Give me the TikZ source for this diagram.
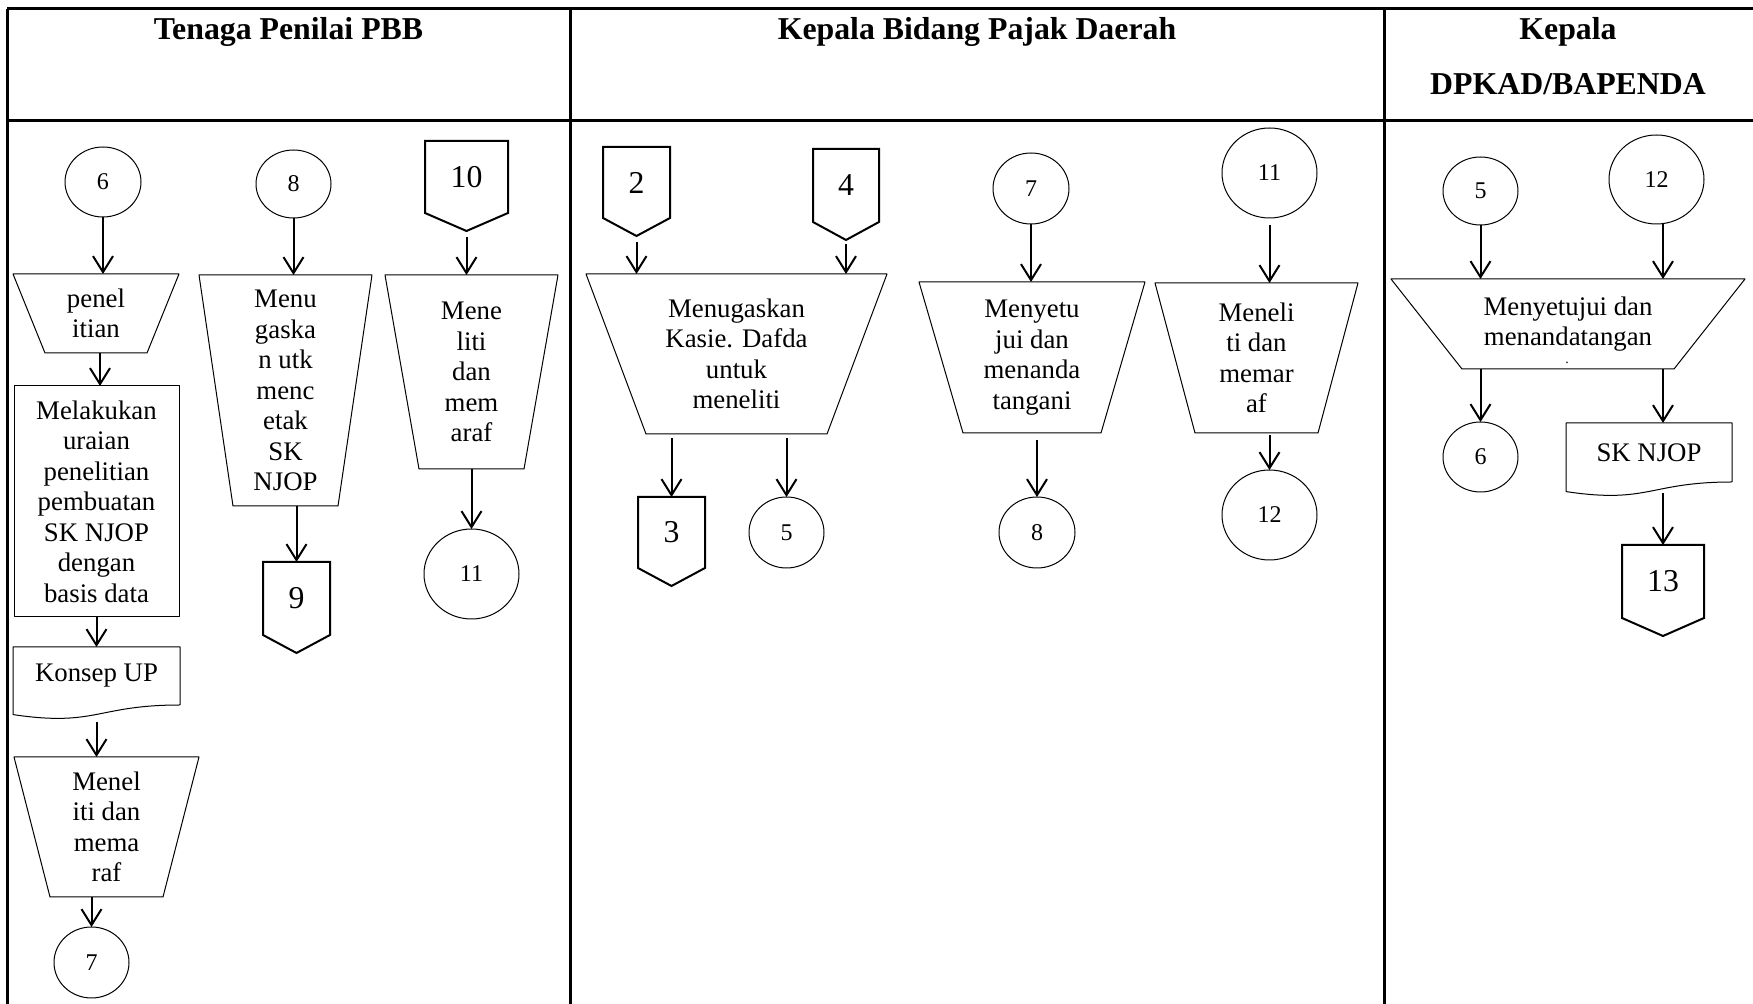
\documentclass[tikz,border=0pt]{standalone}
\usepackage{fontspec}
\setmainfont{Liberation Serif}
\usetikzlibrary{shapes.geometric,arrows.meta}
\newcommand{\lanefont}{\fontsize{15.9}{19}\selectfont\bfseries}
\newcommand{\boxfont}{\fontsize{13.4}{15.25}\selectfont}
\newcommand{\numfont}{\fontsize{12}{14}\selectfont}
\newcommand{\pagefont}{\fontsize{15.9}{19}\selectfont}
\newcommand{\trapout}[2]{\draw[shp] (#1.north west) -- (#1.north east) -- ([xshift=-#2]#1.south east) -- ([xshift=#2]#1.south west) -- cycle;}
\newcommand{\docout}[1]{\draw[shp] (#1.south east) -- (#1.north east) -- (#1.north west) -- ([yshift=-4.8pt]#1.south west) .. controls ([yshift=-11pt]#1.south) and (#1.south) .. (#1.south east);}
\newcommand{\offout}[1]{\draw[line width=1pt,line join=miter] (#1.south west) -- (#1.north west) -- (#1.north east) -- (#1.south east) -- ([yshift=-9pt]#1.south) -- cycle;}
\begin{document}
\begin{tikzpicture}[x=0.5pt,y=-0.5pt,line join=round,
	every node/.style={outer sep=0pt,inner sep=1pt},
	lane/.style={line width=1.5pt},
	shp/.style={line width=.5pt},
	arr/.style={line width=1pt,-{Straight Barb[length=8pt,width=10pt]}},
	hd/.style={font=\lanefont,anchor=base},
	box/.style={font=\boxfont,align=center},
	proc/.style={box,draw,line width=.5pt},
	circ/.style={ellipse,draw,line width=.5pt,inner sep=0pt,font=\numfont,minimum width=38pt,minimum height=35.5pt},
	circL/.style={circ,minimum width=47.5pt,minimum height=45pt},
	off/.style={font=\pagefont,minimum height=36pt},
	doc/.style={box,minimum width=83pt,minimum height=29.5pt}]
	\useasboundingbox (0,0) rectangle (1753,1004);
	\draw[lane] (7,9) -- (1753,9) (7,121) -- (1753,121) (7,9) -- (7,1004) (570,9) -- (570,1004) (1384,9) -- (1384,1004);
	\node[hd] (h1) at (288.5,40) {Tenaga Penilai PBB};
	\node[hd] (h2) at (977,40) {Kepala Bidang Pajak Daerah};
	\node[hd] (h3) at (1568,40) {Kepala};
	\node[hd] (h3b) at (1568,95) {DPKAD/BAPENDA};
	% Tenaga Penilai PBB
	\node[circ,minimum height=35pt] (c6a) at (103,182) {6};
	\node[box,minimum width=83pt,minimum height=39.5pt] (pen) at (96,313.5) {penel\\itian};
	\trapout{pen}{16pt}
	\node[proc,minimum width=82.5pt,minimum height=115.5pt] (melak) at (96.5,501.5) {Melakukan\\uraian\\penelitian\\pembuatan\\SK NJOP\\dengan\\basis data};
	\node[doc,minimum width=83.5pt,minimum height=29pt] (konsep) at (96.5,676) {Konsep UP};
	\docout{konsep}
	\node[box,minimum width=92.5pt,minimum height=70pt] (menel) at (106.5,827) {Menel\\iti dan\\mema\\raf};
	\trapout{menel}{18pt}
	\node[circ,minimum width=37.5pt] (c7a) at (91.5,962.5) {7};
	\node[circ,minimum width=37.5pt,minimum height=34pt] (c8a) at (293.5,184) {8};
	\node[box,minimum width=86.5pt,minimum height=115.5pt] (menu) at (285.5,390.5) {Menu\\gaska\\n utk\\menc\\etak\\SK\\NJOP};
	\trapout{menu}{17pt}
	\node[off,minimum width=33.5pt,minimum height=36.5pt] (o9) at (296.5,598.5) {9};
	\offout{o9}
	\node[off,minimum width=41.5pt] (o10) at (466.5,177) {10};
	\offout{o10}
	\node[box,minimum width=86.5pt,minimum height=97pt] (mene) at (471.5,372) {Mene\\liti\\dan\\mem\\araf};
	\trapout{mene}{17pt}
	\node[circL] (c11a) at (471.5,574) {11};
	\draw[arr] (c6a.south) -- (c6a.south |- pen.north);
	\draw[arr] ([xshift=2pt]pen.south) -- ([xshift=2pt]pen.south |- melak.north);
	\draw[arr] (melak.south) -- (melak.south |- konsep.north);
	\draw[arr,shorten <=8.5pt] (konsep.south) -- (konsep.south |- menel.north);
	\draw[arr] (c7a.north |- menel.south) -- (c7a.north);
	\draw[arr] (c8a.south) -- (c8a.south |- menu.north);
	\draw[arr] (o9.north |- menu.south) -- (o9.north);
	\draw[arr,shorten <=12pt] (o10.south) -- (o10.south |- mene.north);
	\draw[arr] (mene.south) -- (mene.south |- c11a.north);
	% Kepala Bidang Pajak Daerah
	\node[off,minimum width=33.5pt,minimum height=35.5pt] (o2) at (636.5,182.5) {2};
	\offout{o2}
	\node[off,minimum width=33pt,minimum height=36.5pt] (o4) at (846,185.5) {4};
	\offout{o4}
	\node[box,minimum width=150.5pt,minimum height=80pt] (mk) at (736.5,354) {Menugaskan\\Kasie. Dafda\\untuk\\meneliti};
	\trapout{mk}{30pt}
	\node[off,minimum width=33.5pt,minimum height=35.5pt] (o3) at (671.5,532.5) {3};
	\offout{o3}
	\node[circ,minimum width=37.5pt] (c5b) at (786.5,532.5) {5};
	\node[circ] (c7b) at (1031,188.5) {7};
	\node[box,minimum width=113pt,minimum height=75.5pt] (setu) at (1032,357.5) {Menyetu\\jui dan\\menanda\\tangani};
	\trapout{setu}{22pt}
	\node[circ] (c8b) at (1037,532.5) {8};
	\node[circL] (c11b) at (1269.5,173) {11};
	\node[box,minimum width=101.5pt,minimum height=75pt] (neli) at (1256.5,358) {Meneli\\ti dan\\memar\\af};
	\trapout{neli}{20pt}
	\node[circL] (c12b) at (1269.5,515) {12};
	\draw[arr,shorten <=12pt] (o2.south) -- (o2.south |- mk.north);
	\draw[arr,shorten <=11pt] (o4.south) -- (o4.south |- mk.north);
	\draw[arr,shorten <=2pt] (o3.north |- mk.south) -- (o3.north);
	\draw[arr,shorten <=2pt] (c5b.north |- mk.south) -- (c5b.north);
	\draw[arr] (c7b.south) -- (c7b.south |- setu.north);
	\draw[arr,shorten <=3.5pt] (c8b.north |- setu.south) -- (c8b.north);
	\draw[arr,shorten <=3.5pt] (c11b.south) -- (c11b.south |- neli.north);
	\draw[arr,shorten <=1pt] (c12b.north |- neli.south) -- (c12b.north);
	% Kepala DPKAD/BAPENDA
	\node[circ,minimum width=37.5pt,minimum height=34pt] (c5c) at (1480.5,191) {5};
	\node[circL,minimum height=44.5pt] (c12c) at (1656.5,179.5) {12};
	\node[box,minimum width=177pt,minimum height=45pt] (sj) at (1568,324) {Menyetujui dan\\menandatangan};
	\trapout{sj}{35.5pt}
	\node[inner sep=0pt,anchor=base,font=\fontsize{7}{7}\selectfont] (sjdot) at (1567,364) {.};
	\node[circ,minimum width=37.5pt,minimum height=35pt] (c6c) at (1480.5,457) {6};
	\node[doc] (skn) at (1649,452.5) {SK NJOP};
	\docout{skn}
	\node[off,minimum width=41pt,minimum height=36.5pt] (o13) at (1663,581.5) {13};
	\offout{o13}
	\draw[arr] (c5c.south) -- (c5c.south |- sj.north);
	\draw[arr] (o13.north |- c12c.south) -- (o13.north |- sj.north);
	\draw[arr] (c6c.north |- sj.south) -- (c6c.north);
	\draw[arr] (o13.north |- sj.south) -- (o13.north |- skn.north);
	\draw[arr,shorten <=5.5pt] (o13.north |- skn.south) -- (o13.north);
\end{tikzpicture}
\end{document}
